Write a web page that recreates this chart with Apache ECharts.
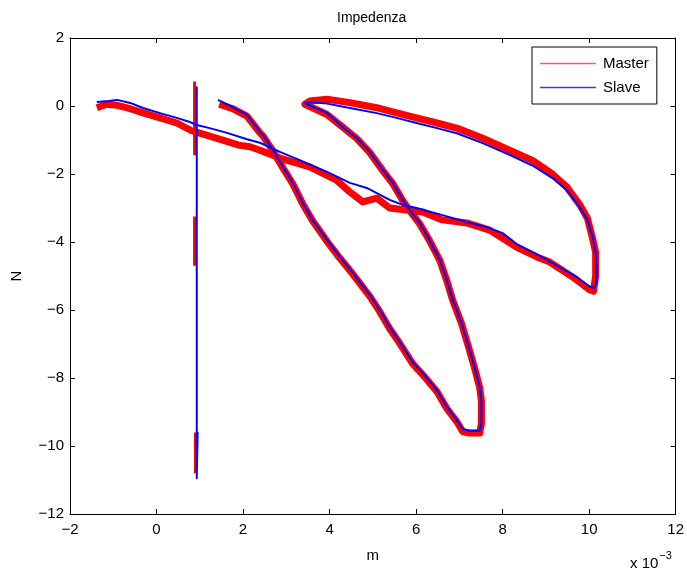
<!DOCTYPE html>
<html>
<head>
<meta charset="utf-8">
<script src="https://cdn.jsdelivr.net/npm/echarts@6/dist/echarts.min.js"></script>
<style>
  html, body { margin: 0; padding: 0; background: #fff; }
  #chart { width: 687px; height: 574px; }
</style>
</head>
<body>
<div id="chart"></div>
<script>
// Displacement in units of 1e-3 m, force in N.
const xTicks = [-2, 0, 2, 4, 6, 8, 10, 12];
const yTicks = [-12, -10, -8, -6, -4, -2, 0, 2];

// Slave trajectory (one continuous sweep)
const slavePath = [
  [-1.38, 0.12], [-1.10, 0.15], [-0.91, 0.18], [-0.61, 0.09], [-0.31, -0.06],
  [0.08, -0.21], [0.47, -0.35], [0.77, -0.47], [0.93, -0.56], [1.23, -0.65],
  [1.63, -0.79], [2.09, -0.98], [2.39, -1.08], [2.85, -1.35], [3.31, -1.59],
  [3.94, -1.94], [4.47, -2.26], [4.86, -2.41], [5.39, -2.76], [5.69, -2.91],
  [6.01, -3.00], [6.61, -3.21], [7.17, -3.41], [7.70, -3.59], [8.00, -3.74],
  [8.35, -4.08], [8.85, -4.40], [9.32, -4.74], [9.71, -5.03], [10.00, -5.30],
  [10.12, -5.36], [10.17, -5.20], [10.17, -4.60], [10.15, -4.30], [10.08, -3.85],
  [9.96, -3.35], [9.78, -2.97], [9.48, -2.47], [9.15, -2.12], [8.69, -1.75],
  [8.16, -1.44], [7.54, -1.09], [6.94, -0.80], [6.48, -0.65], [6.01, -0.50],
  [5.55, -0.35], [5.09, -0.21], [4.47, -0.06], [3.94, 0.07], [3.55, 0.12],
  [3.43, 0.08], [3.94, -0.20], [4.30, -0.62], [4.63, -0.94], [4.93, -1.35],
  [5.23, -1.88], [5.46, -2.26], [5.69, -2.76], [5.85, -3.06], [6.08, -3.44],
  [6.31, -3.94], [6.55, -4.53], [6.71, -5.12], [6.85, -5.71], [7.05, -6.38],
  [7.19, -6.97], [7.35, -7.68], [7.47, -8.26], [7.51, -8.65], [7.51, -9.32],
  [7.47, -9.55], [7.24, -9.55], [7.08, -9.50], [6.94, -9.24], [6.71, -8.85],
  [6.48, -8.35], [6.15, -7.85], [5.92, -7.53], [5.62, -6.94], [5.39, -6.50],
  [5.16, -6.00], [4.93, -5.56], [4.54, -4.91], [4.24, -4.44], [3.94, -3.94],
  [3.61, -3.35], [3.38, -2.85], [3.15, -2.26], [2.92, -1.79], [2.69, -1.29],
  [2.46, -0.85], [2.39, -0.76], [2.09, -0.26], [1.76, -0.03], [1.42, 0.18]
];
const slaveSpike = [[0.93, -0.55], [0.93, 0.55], [0.93, -10.95], [0.95, -9.60], [0.93, -10.90]];

// Master trajectory (noisier, drawn as a wider trace)
const masterPath = [
  [-1.38, -0.05], [-1.15, 0.05], [-0.91, 0.02], [-0.61, -0.08], [-0.31, -0.20],
  [0.08, -0.35], [0.47, -0.50], [0.80, -0.72], [1.00, -0.80], [1.40, -0.95],
  [1.90, -1.15], [2.16, -1.20], [2.39, -1.30], [2.85, -1.53], [3.54, -1.79],
  [4.16, -2.18], [4.47, -2.53], [4.77, -2.82], [5.09, -2.71], [5.39, -3.00],
  [5.78, -3.06], [6.15, -3.12], [6.61, -3.35], [7.17, -3.44], [7.70, -3.65],
  [8.32, -4.15], [8.79, -4.44], [9.09, -4.59], [9.70, -5.10], [10.00, -5.40],
  [10.10, -5.45], [10.15, -5.00], [10.15, -4.30], [10.08, -3.90], [9.96, -3.30],
  [9.78, -2.90], [9.48, -2.38], [9.15, -2.00], [8.69, -1.60], [8.16, -1.30],
  [7.54, -0.95], [6.94, -0.65], [6.48, -0.50], [6.01, -0.35], [5.55, -0.20],
  [5.09, -0.05], [4.47, 0.10], [3.94, 0.20], [3.55, 0.15], [3.43, 0.05],
  [3.94, -0.25], [4.30, -0.62], [4.63, -0.96], [4.93, -1.37], [5.23, -1.90],
  [5.46, -2.28], [5.69, -2.78], [5.85, -3.08], [6.08, -3.46], [6.31, -3.96],
  [6.55, -4.55], [6.71, -5.14], [6.85, -5.73], [7.05, -6.40], [7.19, -6.99],
  [7.35, -7.70], [7.47, -8.28], [7.51, -8.67], [7.51, -9.34], [7.47, -9.62],
  [7.24, -9.62], [7.08, -9.58], [6.94, -9.28], [6.71, -8.90], [6.48, -8.40],
  [6.15, -7.90], [5.92, -7.58], [5.62, -6.98], [5.39, -6.55], [5.16, -6.05],
  [4.93, -5.60], [4.54, -4.95], [4.24, -4.48], [3.94, -3.98], [3.61, -3.38],
  [3.38, -2.88], [3.15, -2.29], [2.92, -1.82], [2.69, -1.32], [2.46, -0.88],
  [2.39, -0.79], [2.09, -0.30], [1.76, -0.08], [1.45, 0.05]
];
const masterSpikes = [
  [[0.88, 0.72], [0.88, -1.45]],
  [[0.88, -3.25], [0.88, -4.70]],
  [[0.90, -9.60], [0.90, -10.80]]
];

const FONT = '"Liberation Sans", Arial, Helvetica, sans-serif';
const minus = v => String(v).replace('-', '\u2212');

const mainAxisCommon = {
  type: 'value',
  axisLine: { show: true, onZero: false, lineStyle: { color: '#000', width: 1 } },
  axisTick: { show: true, inside: true, length: 5, lineStyle: { color: '#000' } },
  splitLine: { show: false }
};

function lineSeries(name, data, color, width, z) {
  return {
    name: name,
    type: 'line',
    data: data,
    symbol: 'none',
    animation: false,
    silent: true,
    z: z,
    lineStyle: { color: color, width: width, join: 'round' },
    itemStyle: { color: color }
  };
}

const series = [];
series.push(lineSeries('Master', masterPath, '#ff0000', 7, 2));
masterSpikes.forEach(s => series.push(lineSeries('Master', s, '#ff0000', 3, 2)));
series.push(lineSeries('Slave', slavePath, '#0000ff', 2, 3));
series.push(lineSeries('Slave', slaveSpike, '#0000ff', 2, 3));

const chart = echarts.init(document.getElementById('chart'), null, { renderer: 'canvas' });
chart.setOption({
  backgroundColor: '#fff',
  animation: false,
  textStyle: { fontFamily: FONT },
  grid: { left: 70, right: 11, top: 38, bottom: 60, containLabel: false },
  legend: {
    show: true,
    left: 532,
    top: 47,
    orient: 'vertical',
    backgroundColor: '#fff',
    borderColor: '#000',
    borderWidth: 1,
    borderRadius: 0,
    padding: [8, 8, 8, 8],
    itemWidth: 56,
    itemHeight: 1.5,
    itemGap: 7,
    textStyle: { fontFamily: FONT, fontSize: 15, color: '#000', padding: [0, 0, 0, 2], lineHeight: 17 },
    data: [
      { name: 'Master', icon: 'rect', itemStyle: { color: '#ff5a5a' } },
      { name: 'Slave', icon: 'rect', itemStyle: { color: '#3a3aff' } }
    ],
    selectedMode: false
  },
  xAxis: [
    Object.assign({}, mainAxisCommon, {
      min: xTicks[0], max: xTicks[xTicks.length - 1], interval: 2,
      position: 'bottom',
      name: 'm', nameLocation: 'middle', nameGap: 34,
      nameTextStyle: { fontFamily: FONT, fontSize: 15, color: '#000' },
      axisLabel: { color: '#000', fontFamily: FONT, fontSize: 15, margin: 8, formatter: minus }
    }),
    Object.assign({}, mainAxisCommon, {
      min: xTicks[0], max: xTicks[xTicks.length - 1], interval: 2,
      position: 'top',
      axisLabel: { show: false }
    })
  ],
  yAxis: [
    Object.assign({}, mainAxisCommon, {
      min: yTicks[0], max: yTicks[yTicks.length - 1], interval: 2,
      position: 'left',
      name: 'N', nameLocation: 'middle', nameGap: 46, nameRotate: 90,
      nameTextStyle: { fontFamily: FONT, fontSize: 15, color: '#000' },
      axisLabel: { color: '#000', fontFamily: FONT, fontSize: 15, margin: 6, formatter: minus }
    }),
    Object.assign({}, mainAxisCommon, {
      min: yTicks[0], max: yTicks[yTicks.length - 1], interval: 2,
      position: 'right',
      axisLabel: { show: false }
    })
  ],
  graphic: [
    {
      type: 'text', left: 373 - 36, top: 11, silent: true,
      style: { text: 'Impedenza', font: '14px ' + FONT, fill: '#000' }
    },
    {
      type: 'text', left: 630, top: 550, silent: true,
      style: {
        text: '{b|x 10}{s|\u22123}',
        rich: {
          b: { font: '15px ' + FONT, fill: '#000', padding: [8, 0, 0, 0] },
          s: { font: '11px ' + FONT, fill: '#000', padding: [0, 0, 8, 1] }
        }
      }
    }
  ],
  series: series
});
</script>
</body>
</html>
